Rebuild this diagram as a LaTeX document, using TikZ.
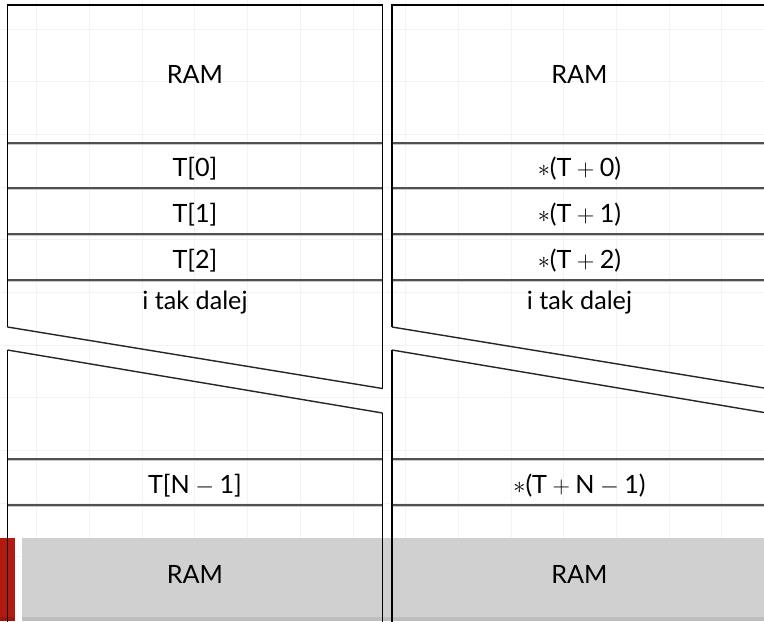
\documentclass[tikz,border=0pt]{standalone}
\usepackage{fontspec}
\setmainfont{Lato}
\definecolor{siatka}{HTML}{F3F3F3}
\definecolor{kreska}{HTML}{505050}
\definecolor{cien}{HTML}{C8C8C8}
\definecolor{stopka}{HTML}{D0D0D0}
\definecolor{stopkaciemna}{HTML}{BEBEBE}
\definecolor{czerwony}{HTML}{B31B10}
\tikzset{
	komorka/.style={anchor=base, inner sep=0pt, font=\fontsize{17.9}{20}\selectfont},
	podzial/.style={draw=kreska, line width=1.4pt},
	ramka/.style={draw=black, line width=0.95pt},
	przerwa/.style={draw=black!85, line width=1pt}
}

\begin{document}
\begin{tikzpicture}[x=0.025cm, y=-0.025cm]
		\useasboundingbox (0,0) rectangle (764,621);
		\clip (0,0) rectangle (764,621);
		\foreach \i in {0,...,13} \draw[siatka, line width=0.6pt] ({36.8+52.7*\i},0) -- ({36.8+52.7*\i},621);
		\foreach \j in {0,...,10} \draw[siatka, line width=0.6pt] (0,{29+52.7*\j}) -- (764,{29+52.7*\j});
		\fill[stopka] (22,538) rectangle (764,621);
		\fill[stopkaciemna] (22,617) rectangle (764,621);
		\fill[czerwony] (0,538) rectangle (14.7,621);
		\fill[czerwony!85!black] (0,617) rectangle (14.7,621);
		\foreach \x in {7.5,392} {
			\draw[cien, line width=0.8pt] (\x,144.6) -- ++(375,0) (\x,189.6) -- ++(375,0) (\x,235.6) -- ++(375,0) (\x,281.6) -- ++(375,0) (\x,460.6) -- ++(375,0) (\x,506.6) -- ++(375,0);
			\draw[podzial] (\x,143) -- ++(375,0) (\x,188) -- ++(375,0) (\x,234) -- ++(375,0) (\x,280) -- ++(375,0) (\x,459) -- ++(375,0) (\x,505) -- ++(375,0);
			\draw[ramka] (\x,327) -- (\x,5) -- ++(375,0) -- ++(0,383.5);
			\draw[przerwa] (\x,327) -- ++(375,61.5);
			\draw[przerwa] (\x,350) -- ++(375,63);
			\draw[ramka] (\x,350) -- (\x,650) (\x+375,413) -- (\x+375,650);
		}
		\node[komorka] (ramL) at (195,83.3) {RAM};
		\node[komorka] (t0) at (195,176.5) {T[0]};
		\node[komorka] (t1) at (195,222) {T[1]};
		\node[komorka] (t2) at (195,268) {T[2]};
		\node[komorka] (dalejL) at (195,309) {i tak dalej};
		\node[komorka] (tn1) at (195,493) {T[N${}-{}$1]};
		\node[komorka] (ramLd) at (195,583.3) {RAM};
		\node[komorka] (ramR) at (579.5,83.3) {RAM};
		\node[komorka] (p0) at (579.5,176.5) {$\ast$(T${}+{}$0)};
		\node[komorka] (p1) at (579.5,222) {$\ast$(T${}+{}$1)};
		\node[komorka] (p2) at (579.5,268) {$\ast$(T${}+{}$2)};
		\node[komorka] (dalejR) at (579.5,309) {i tak dalej};
		\node[komorka] (pn1) at (579.5,493) {$\ast$(T${}+{}$N${}-{}$1)};
		\node[komorka] (ramRd) at (579.5,583.3) {RAM};
\end{tikzpicture}
\end{document}
